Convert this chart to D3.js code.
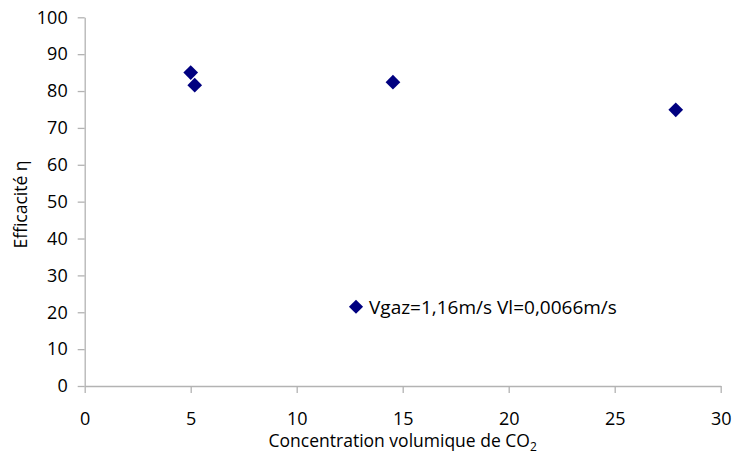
<!DOCTYPE html>
<html><head><meta charset="utf-8">
<script src="https://cdn.jsdelivr.net/npm/d3@7/dist/d3.min.js"></script>
<style>body{margin:0;background:#fff}svg text{font-family:"Open Sans",sans-serif;fill:#000}</style>
</head><body>
<svg id="c" width="733" height="454"></svg>
<script>
const xValues = [5.0, 5.19, 14.54, 27.88];
const yValues = [85.0, 81.6, 82.4, 74.9];
const xTicks = [0, 5, 10, 15, 20, 25, 30];
const yTicks = [0, 10, 20, 30, 40, 50, 60, 70, 80, 90, 100];
const seriesName = "Vgaz=1,16m/s Vl=0,0066m/s";

const svg = d3.select("#c");
const mLeft = 84.7, mRight = 720.7, mTop = 17.3, mBottom = 386;
const x = d3.scaleLinear().domain([0, 30]).range([mLeft, mRight]);
const y = d3.scaleLinear().domain([0, 100]).range([mBottom, mTop]);
const axisColor = "#b3b3b3";

const gx = svg.append("g").attr("transform", `translate(0,${mBottom})`)
  .call(d3.axisBottom(x).tickValues(xTicks).tickSize(7).tickPadding(19).tickSizeOuter(0));
const gy = svg.append("g").attr("transform", `translate(${mLeft},0)`)
  .call(d3.axisLeft(y).tickValues(yTicks).tickSize(7).tickPadding(10).tickSizeOuter(0));
[gx, gy].forEach(g => {
  g.select(".domain").attr("stroke", axisColor).attr("stroke-width", 1.3);
  g.selectAll(".tick line").attr("stroke", axisColor).attr("stroke-width", 1.3);
  g.selectAll(".tick text").attr("font-size", 18).attr("font-family", "Open Sans").attr("fill", "#000");
});

const pts = xValues.map((v, i) => [v, yValues[i]]);
svg.append("g").selectAll("path").data(pts).join("path")
  .attr("d", d3.symbol().type(d3.symbolSquare).size(108))
  .attr("transform", d => `translate(${x(d[0])},${y(d[1])}) rotate(45)`)
  .attr("fill", "#000080");

// legend
svg.append("path").attr("d", d3.symbol().type(d3.symbolSquare).size(100))
  .attr("transform", `translate(356,306.7) rotate(45)`).attr("fill", "#000080");
svg.append("text").attr("x", 369).attr("y", 313.5).attr("font-size", 19).text(seriesName);

// axis titles
const xt = svg.append("text").attr("x", (mLeft + mRight) / 2).attr("y", 447)
  .attr("text-anchor", "middle").attr("font-size", 17.5);
xt.append("tspan").text("Concentration volumique de CO");
xt.append("tspan").attr("font-size", 12).attr("dy", 4).text("2");
svg.append("text").attr("transform", `translate(27,204.5) rotate(-90)`)
  .attr("text-anchor", "middle").attr("font-size", 17.5).text("Efficacité η");
</script>
</body></html>
